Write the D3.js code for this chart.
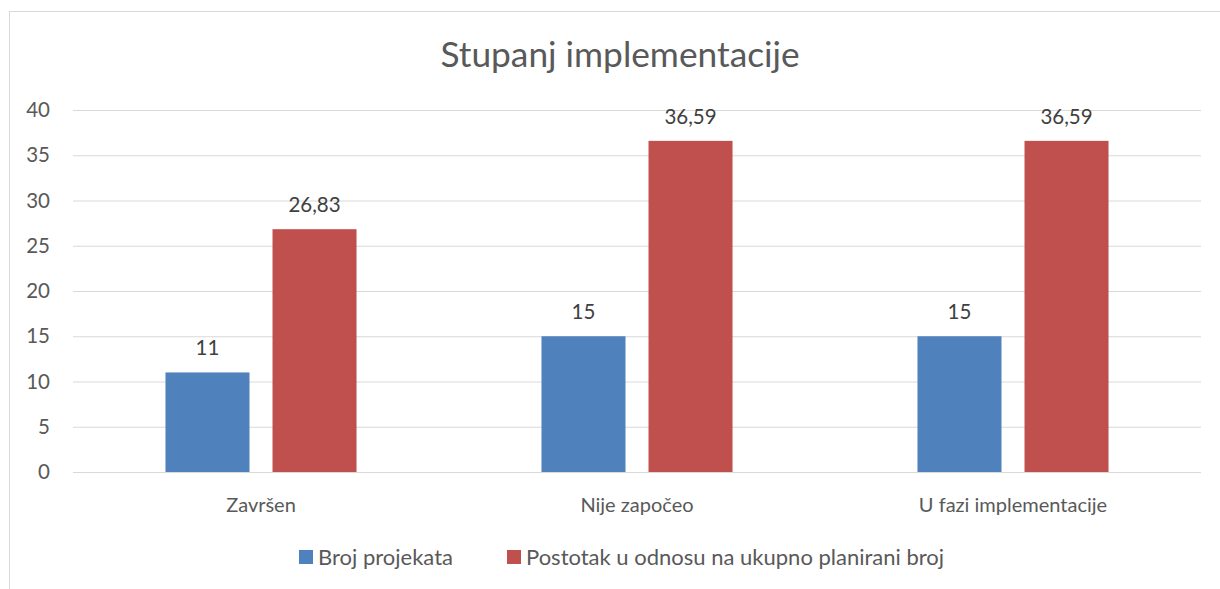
<!DOCTYPE html>
<html lang="hr">
<head>
<meta charset="utf-8">
<script src="https://d3js.org/d3.v7.min.js"></script>
<style>
  body { margin: 0; background: #fff; }
  svg text { font-family: Lato, "Open Sans", sans-serif; }
</style>
</head>
<body>
<script>
// data
const categories = ["Završen", "Nije započeo", "U fazi implementacije"];
const seriesNames = ["Broj projekata", "Postotak u odnosu na ukupno planirani broj"];
const brojProjekata = [11, 15, 15];
const postotak = [26.83, 36.59, 36.59];
const yTicks = [0, 5, 10, 15, 20, 25, 30, 35, 40];
const colors = ["#4F81BD", "#C0504D"];

const width = 1220, height = 589;
const margin = {top: 110, right: 19, bottom: 117, left: 73};

const svg = d3.select("body").append("svg")
  .attr("width", width)
  .attr("height", height);

// chart frame
svg.append("rect")
  .attr("x", 9.5).attr("y", 11.5)
  .attr("width", 1230).attr("height", 600)
  .attr("fill", "none")
  .attr("stroke", "#d9d9d9");

svg.append("text")
  .attr("x", 620).attr("y", 67)
  .attr("text-anchor", "middle")
  .attr("font-size", 35.3)
  .attr("fill", "#595959")
  .text("Stupanj implementacije");

const x0 = d3.scaleBand()
  .domain(categories)
  .range([margin.left, width - margin.right]);

const x1 = d3.scaleBand()
  .domain(seriesNames)
  .range([0, x0.bandwidth()])
  .paddingInner(0.215)
  .paddingOuter(0.864);

const y = d3.scaleLinear()
  .domain([0, 40])
  .range([height - margin.bottom, margin.top]);

// gridlines
svg.append("g")
  .selectAll("line")
  .data(yTicks)
  .join("line")
  .attr("x1", margin.left).attr("x2", width - margin.right)
  .attr("y1", d => y(d) + 0.5).attr("y2", d => y(d) + 0.5)
  .attr("stroke", "#d9d9d9")
  .attr("stroke-width", 1);

// y labels
svg.append("g")
  .selectAll("text")
  .data(yTicks)
  .join("text")
  .attr("x", 50)
  .attr("y", d => y(d))
  .attr("dy", "0.35em")
  .attr("text-anchor", "end")
  .attr("font-size", 20.5)
  .attr("fill", "#595959")
  .text(d => d);

const rows = categories.map((c, i) => ({
  cat: c,
  vals: [brojProjekata[i], postotak[i]]
}));

const fmt = v => String(v).replace(".", ",");

const groups = svg.append("g")
  .selectAll("g")
  .data(rows)
  .join("g")
  .attr("transform", d => `translate(${x0(d.cat)},0)`);

groups.selectAll("rect")
  .data(d => d.vals.map((v, j) => ({name: seriesNames[j], v, j})))
  .join("rect")
  .attr("x", d => x1(d.name))
  .attr("width", x1.bandwidth())
  .attr("y", d => y(d.v))
  .attr("height", d => y(0) - y(d.v))
  .attr("fill", d => colors[d.j]);

groups.selectAll("text.lbl")
  .data(d => d.vals.map((v, j) => ({name: seriesNames[j], v, j})))
  .join("text")
  .attr("class", "lbl")
  .attr("x", d => x1(d.name) + x1.bandwidth() / 2)
  .attr("y", d => y(d.v) - 17)
  .attr("text-anchor", "middle")
  .attr("font-size", 20.5)
  .attr("fill", "#404040")
  .text(d => fmt(d.v));

// category labels
svg.append("g")
  .selectAll("text")
  .data(categories)
  .join("text")
  .attr("x", d => x0(d) + x0.bandwidth() / 2)
  .attr("y", 512)
  .attr("text-anchor", "middle")
  .attr("font-size", 20)
  .attr("fill", "#595959")
  .text(d => d);

// legend
const legendX = [299, 507];
const legend = svg.append("g")
  .selectAll("g")
  .data(seriesNames)
  .join("g")
  .attr("transform", (d, i) => `translate(${legendX[i]},550)`);

legend.append("rect")
  .attr("width", 14).attr("height", 14)
  .attr("fill", (d, i) => colors[i]);

legend.append("text")
  .attr("x", 19).attr("y", 7)
  .attr("dy", "0.35em")
  .attr("font-size", 22)
  .attr("fill", "#595959")
  .text(d => d);
</script>
</body>
</html>
